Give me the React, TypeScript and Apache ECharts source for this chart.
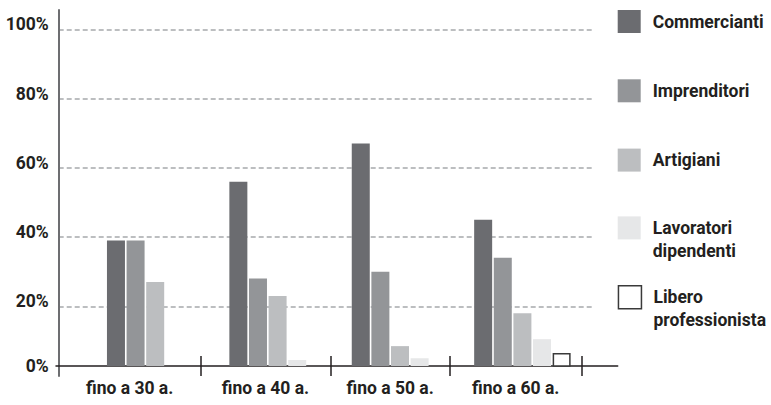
import React, { useEffect, useRef } from "react";
import * as echarts from "echarts";

// Age bands on the category axis
const categories = ["fino a 30 a.", "fino a 40 a.", "fino a 50 a.", "fino a 60 a."];

// Share of respondents per professional group (%)
const commercianti = [39, 56, 67, 45];
const imprenditori = [39, 28, 30, 34];
const artigiani = [27, 23, 8.5, 18];
const lavoratoriDipendenti: (number | null)[] = [null, 4.5, 5, 10.5];
const liberoProfessionista: (number | null)[] = [null, null, null, 6.5];

const seriesNames = [
  "Commercianti",
  "Imprenditori",
  "Artigiani",
  "Lavoratori dipendenti",
  "Libero professionista",
];
const seriesValues = [
  commercianti,
  imprenditori,
  artigiani,
  lavoratoriDipendenti,
  liberoProfessionista,
];

const fills = ["#6b6c70", "#939598", "#bcbec0", "#e6e7e8", "#ffffff"];
const FONT = "Roboto, 'DejaVu Sans', sans-serif";
const TEXT = "#231f20";

// value-axis range: the baseline sits a little above the 0 of the grid lines
const Y_MIN = 2.76;
const Y_MAX = 100;

// frame x-axis (pixels from its start): group separators and label centres
const sepPos = [2.7, 144.5, 274.5, 393.8, 525.7];
const labelPos = sepPos.slice(1).map((p, i) => (p + sepPos[i]) / 2);

export default function App() {
  const ref = useRef<HTMLDivElement>(null);

  useEffect(() => {
    if (!ref.current) return;
    const chart = echarts.init(ref.current, null, { renderer: "svg" });

    const baseFont = { fontFamily: FONT, fontWeight: "bold" as const, fontSize: 17.5, color: TEXT };

    const option: any = {
      animation: false,
      backgroundColor: "#ffffff",
      grid: [
        // 0: bars
        { left: 94, right: 187.4, top: 29.3, bottom: 39 },
        // 1: value labels and dashed grid lines
        { left: 58.7, right: 178, top: 29.3, bottom: 39 },
        // 2: vertical axis line
        { left: 58.7, right: 178, top: 10, bottom: 29 },
        // 3: horizontal axis line, separators and category labels
        { left: 56, right: 153.3, top: 29.3, bottom: 39 },
      ],
      xAxis: [
        { gridIndex: 0, type: "category", data: categories, show: false },
        { gridIndex: 1, type: "value", min: 0, max: 1, show: false },
        { gridIndex: 2, type: "value", min: 0, max: 1, show: false },
        {
          gridIndex: 3,
          type: "value",
          position: "bottom",
          min: 0,
          max: 561.7,
          axisLine: { show: true, onZero: false, lineStyle: { color: TEXT, width: 1.5 } },
          axisTick: { show: false },
          axisLabel: { show: false },
          splitLine: { show: false },
        },
        {
          gridIndex: 3,
          type: "value",
          position: "bottom",
          offset: -10,
          min: 0,
          max: 561.7,
          axisLine: { show: false, onZero: false },
          axisTick: {
            show: true,
            length: 20,
            customValues: sepPos.slice(1),
            lineStyle: { color: TEXT, width: 1.5 },
          },
          axisLabel: {
            show: true,
            customValues: labelPos,
            margin: 23,
            ...baseFont,
            formatter: (v: number) => {
              const i = labelPos.findIndex((p) => Math.abs(p - v) < 0.5);
              return i >= 0 ? categories[i] : "";
            },
          },
          splitLine: { show: false },
        },
      ],
      yAxis: [
        { gridIndex: 0, type: "value", min: Y_MIN, max: Y_MAX, show: false },
        {
          gridIndex: 1,
          type: "value",
          min: Y_MIN,
          max: Y_MAX,
          splitNumber: 5,
          axisLine: { show: false },
          axisTick: { show: false },
          axisLabel: {
            margin: 10,
            formatter: (v: number) => (v < 10 ? "{z|0%}" : "{a|" + Math.round(v) + "%}"),
            rich: {
              a: { ...baseFont, padding: [0, 0, 10, 0] },
              z: { ...baseFont },
            },
          },
          splitLine: {
            show: true,
            showMinLine: false,
            lineStyle: { color: "#a7a9ac", width: 1.5, type: [5, 3] },
          },
        },
        {
          gridIndex: 2,
          type: "value",
          min: 0,
          max: 1,
          axisLine: { show: true, onZero: false, lineStyle: { color: "#6d6e71", width: 2 } },
          axisTick: { show: false },
          axisLabel: { show: false },
          splitLine: { show: false },
        },
        { gridIndex: 3, type: "value", min: 0, max: 1, show: false },
      ],
      legend: seriesNames.map((name, i) => {
        const twoLines = name.includes(" ");
        const swatchTop = 10 + i * 69.3;
        return {
          data: [
            {
              name,
              itemStyle: {
                color: fills[i],
                borderColor: i === 4 ? "#3a3a3a" : fills[i],
                borderWidth: i === 4 ? 1.5 : 0,
              },
            },
          ],
          orient: "vertical",
          left: 617.7,
          // two-line names get an empty leading line so the first word sits beside the swatch
          top: twoLines ? swatchTop - 24.5 : swatchTop,
          padding: 0,
          itemWidth: 23,
          itemHeight: 23,
          icon: "rect",
          selectedMode: false,
          formatter: (n: string) => (n.includes(" ") ? "\n" + n.replace(" ", "\n") : n),
          textStyle: {
            ...baseFont,
            lineHeight: 23,
            padding: [0, 0, 0, 7],
          },
        };
      }),
      series: seriesNames.map((name, i) => ({
        name,
        type: "bar",
        xAxisIndex: 0,
        yAxisIndex: 0,
        clip: true,
        barWidth: 18,
        barGap: "9%",
        data: seriesValues[i].map((v) => (v == null ? "-" : v)),
        itemStyle: {
          color: fills[i],
          borderColor: i === 4 ? "#3a3a3a" : undefined,
          borderWidth: i === 4 ? 1.5 : 0,
        },
      })),
    };

    chart.setOption(option);
    return () => chart.dispose();
  }, []);

  return (
    <div
      ref={ref}
      style={{ position: "fixed", left: 0, top: 0, width: 771, height: 405 }}
    />
  );
}
